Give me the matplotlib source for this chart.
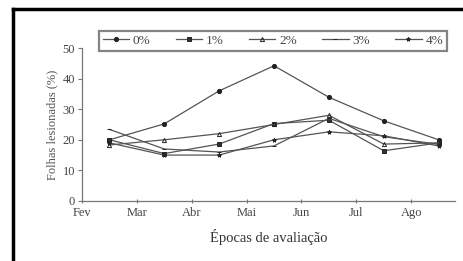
import numpy as np
import matplotlib
matplotlib.use('Agg')
import matplotlib.pyplot as plt
from matplotlib.lines import Line2D

##
## Data
##
months = ['Fev', 'Mar', 'Abr', 'Mai', 'Jun', 'Jul', 'Ago']
epocas = [0.5, 1.5, 2.5, 3.5, 4.5, 5.5, 6.5]

s0 = [20.0, 25.2, 36.0, 44.2, 33.9, 26.2, 20.0]
s1 = [20.0, 15.5, 18.6, 25.3, 26.4, 16.4, 19.0]
s2 = [18.3, 20.0, 22.0, 25.0, 28.0, 18.6, 19.0]
s3 = [23.4, 17.0, 16.0, 18.0, 27.0, 21.0, 18.5]
s4 = [19.0, 15.0, 15.0, 20.0, 22.6, 21.3, 18.0]
labels = ['0%', '1%', '2%', '3%', '4%']

plt.rcParams['font.family'] = ['Liberation Serif', 'DejaVu Serif']

fig = plt.figure(figsize=(4.63, 2.61), dpi=100)
ax = fig.add_axes([0.177, 0.230, 0.806, 0.586])

series = [s0, s1, s2, s3, s4]
markers = ['o', 's', '^', '_', '*']
fills = ['#222222', '#333333', 'none', 'none', '#333333']
for s, m, fc, lab in zip(series, markers, fills, labels):
    ax.plot(epocas, s, color='#555555', lw=0.9, marker=m, ms=3,
            markerfacecolor=fc, markeredgecolor='#222222', mew=0.7, label=lab)

ax.set_xlim(0, 6.8)
ax.set_ylim(0, 50)
ax.set_yticks([0, 10, 20, 30, 40, 50])
ax.set_xticks(range(len(months)))
ax.set_xticklabels(months)
for sp in ['top', 'right']:
    ax.spines[sp].set_visible(False)
for sp in ['left', 'bottom']:
    ax.spines[sp].set_color('#777777')
    ax.spines[sp].set_linewidth(0.9)
ax.tick_params(axis='y', direction='out', length=3, width=0.8, colors='#777777',
               labelsize=9, labelcolor='#444444', pad=2)
ax.tick_params(axis='x', direction='inout', length=3, width=0.8, colors='#777777',
               labelsize=9, labelcolor='#444444', pad=3)
ax.set_ylabel('Folhas lesionadas (%)', fontsize=9, color='#555555', labelpad=3)
ax.set_xlabel('Épocas de avaliação', fontsize=10.5, color='#333333', labelpad=7)

leg = ax.legend(ncol=5, loc='upper center', bbox_to_anchor=(0.512, 1.155),
                fontsize=9.5, frameon=True, fancybox=False, handlelength=2.0,
                handletextpad=0.3, columnspacing=1.9, borderpad=0.3,
                labelcolor='#444444')
leg.get_frame().set_edgecolor('#666666')
leg.get_frame().set_linewidth(1.6)

# black frame of the scanned figure (left and top edges)
fig.add_artist(Line2D([0.029, 0.029], [0.0, 0.966], transform=fig.transFigure,
                      color='black', lw=2.5))
fig.add_artist(Line2D([0.029, 1.0], [0.966, 0.966], transform=fig.transFigure,
                      color='black', lw=2.5))

plt.savefig('out.png', dpi=100)
